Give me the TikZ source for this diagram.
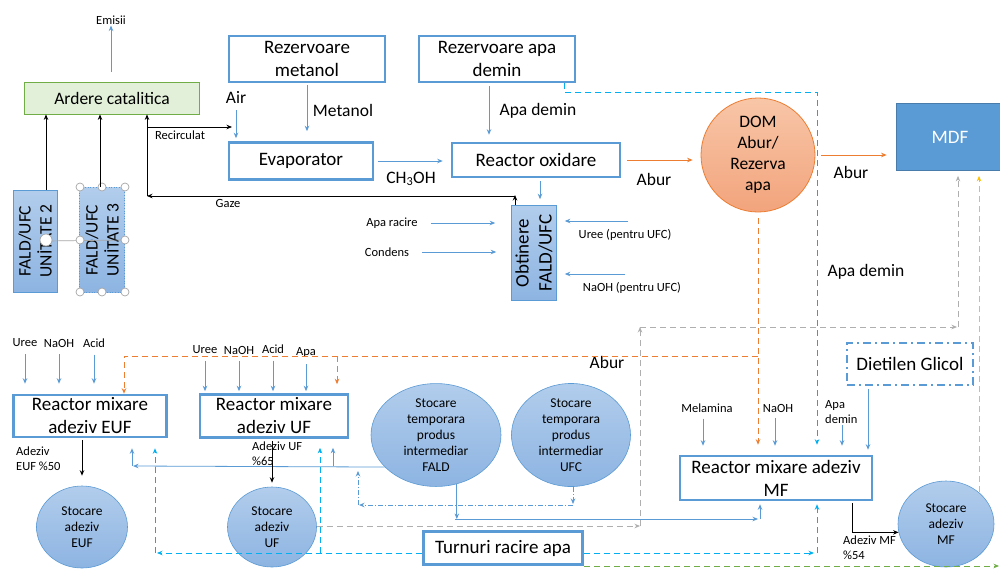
\documentclass[tikz,border=0pt]{standalone}
\usepackage{fontspec}
\setmainfont{Carlito}
\usetikzlibrary{arrows.meta,shapes.geometric}
\definecolor{boxblue}{HTML}{5B9BD5}
\definecolor{unittop}{HTML}{B2CDEC}
\definecolor{unitbot}{HTML}{8DB4E2}
\definecolor{aburorange}{HTML}{ED7D31}
\definecolor{domtop}{HTML}{F8C6A8}
\definecolor{dombot}{HTML}{F2A47C}
\definecolor{demincyan}{HTML}{00B0F0}
\definecolor{retgray}{HTML}{AFAFAF}
\definecolor{mdfyellow}{HTML}{FFC000}
\definecolor{ardgreen}{HTML}{70AD47}
\definecolor{ardfill}{HTML}{E2F0D9}
\newcommand{\fntL}{\fontsize{19}{23}\selectfont}
\newcommand{\fntM}{\fontsize{17.5}{21}\selectfont}
\newcommand{\fntS}{\fontsize{13.5}{16}\selectfont}
\newcommand{\fntXS}{\fontsize{12.5}{15}\selectfont}
\tikzset{
  proc/.style={draw=boxblue, line width=2.6pt, fill=white, align=center, font=\fntL, inner sep=1pt},
  unit/.style={draw=boxblue, line width=0.6pt, top color=unittop, bottom color=unitbot, align=center, font=\fntM, rotate=90, inner sep=1pt},
  tank/.style={ellipse, draw=boxblue, line width=0.6pt, top color=unittop, bottom color=unitbot, align=center, font=\fntS, inner sep=0pt},
  lbl/.style={font=\fntXS, inner sep=1pt},
  biglbl/.style={font=\fntM, inner sep=1pt},
  flowtip/.style={-{Stealth[length=5.5pt,width=4.5pt]}},
  bluearr/.style={flowtip, draw=boxblue, line width=0.8pt},
  blackarr/.style={flowtip, draw=black, line width=0.8pt},
  aburarr/.style={flowtip, draw=aburorange, line width=0.8pt},
  aburdash/.style={aburarr, dash pattern=on 6pt off 4pt},
  demindash/.style={flowtip, draw=demincyan, line width=0.8pt, dash pattern=on 6pt off 4pt},
  retdash/.style={flowtip, draw=retgray, line width=0.8pt, dash pattern=on 6pt off 4pt},
  mdfdash/.style={flowtip, draw=mdfyellow, line width=0.8pt, dash pattern=on 6pt off 4pt},
  greendash/.style={flowtip, draw=ardgreen, line width=0.8pt, dash pattern=on 6pt off 4pt},
  ufcdash/.style={flowtip, draw=boxblue, line width=0.8pt, dash pattern=on 5pt off 2pt on 1pt off 2pt},
  handle/.style={draw=gray!70, fill=white, line width=0.7pt}
}
\begin{document}
\begin{tikzpicture}[x=1pt,y=-1pt]
  \fill[white] (0,0) rectangle (1000,568);
  \useasboundingbox (0,0) rectangle (1000,568);
  % FALD line
  \node[lbl] (emisii) at (111,20) {Emisii};
  \node[draw=ardgreen, fill=ardfill, line width=0.8pt, minimum width=175, minimum height=32, font=\fntM] (ardere) at (112,98) {Ardere catalitica};
  \node[unit, minimum width=102, minimum height=44] (u2) at (35,241) {FALD/UFC\\UNİTATE 2};
  \node[unit, minimum width=105, minimum height=45, dotted] (u3) at (102,240) {FALD/UFC\\UNİTATE 3};
  \node[proc, minimum width=156, minimum height=46] (metanol) at (307,59) {Rezervoare\\metanol};
  \node[proc, minimum width=144, minimum height=37] (evap) at (301,161) {Evaporator};
  \node[proc, minimum width=156, minimum height=46] (apadem) at (497,59) {Rezervoare apa\\demin};
  \node[proc, minimum width=168, minimum height=34] (oxid) at (536,160) {Reactor oxidare};
  \node[unit, minimum width=95, minimum height=45, font=\fntL] (obt) at (534,253) {Obtinere\\FALD/UFC};
  \node[circle, draw=aburorange, line width=0.8pt, top color=domtop, bottom color=dombot, minimum size=114, align=center, font=\fntM, inner sep=0pt] (dom) at (758,155) {DOM\\Abur/\\Rezerva\\apa};
  \node[draw=boxblue!80!black, fill=boxblue, line width=0.8pt, minimum width=108, minimum height=67, text=white, font=\fntL] (mdf) at (950,137) {MDF};
  % adezivi
  \node[proc, minimum width=153, minimum height=42] (euf) at (90,416) {Reactor mixare\\adeziv EUF};
  \node[proc, minimum width=148, minimum height=43] (uf) at (274,416) {Reactor mixare\\adeziv UF};
  \node[tank, minimum width=130, minimum height=94] (fald) at (436,435) {Stocare\\temporara\\produs\\intermediar\\FALD};
  \node[tank, minimum width=119, minimum height=94] (ufc) at (571,435) {Stocare\\temporara\\produs\\intermediar\\UFC};
  \node[tank, minimum width=91, minimum height=82] (steuf) at (82,527) {Stocare\\adeziv\\EUF};
  \node[tank, minimum width=89, minimum height=80] (stuf) at (272,527) {Stocare\\adeziv\\UF};
  \node[proc, minimum width=192, minimum height=44] (mf) at (776,478) {Reactor mixare adeziv\\MF};
  \node[proc, line width=1.8pt, dash pattern=on 8pt off 4pt on 2pt off 4pt, minimum width=126, minimum height=42] (dgl) at (910,364) {Dietilen Glicol};
  \node[tank, minimum width=96, minimum height=86] (stmf) at (946,524) {Stocare\\adeziv\\MF};
  \node[proc, minimum width=159, minimum height=33] (turn) at (503,548) {Turnuri racire apa};
  % labels
  \node[biglbl] (air) at (236,97) {Air};
  \node[biglbl] at (343,110) {Metanol};
  \node[biglbl] at (538,111) {Apa demin};
  \node[biglbl] at (411,179) {CH\textsubscript{3}OH};
  \node[biglbl] at (654,179) {Abur};
  \node[biglbl] at (851,172) {Abur};
  \node[biglbl] at (866,272) {Apa demin};
  \node[biglbl] at (607,362) {Abur};
  \node[lbl] at (180,135) {Recirculat};
  \node[lbl] at (228,203) {Gaze};
  \node[lbl] (racire) at (392,223) {Apa racire};
  \node[lbl] (condens) at (387,252) {Condens};
  \node[lbl] at (625,235) {Uree (pentru UFC)};
  \node[lbl] at (632,288) {NaOH (pentru UFC)};
  \node[lbl] (ure1) at (25,343) {Uree};
  \node[lbl] (na1) at (59,343) {NaOH};
  \node[lbl] (ac1) at (94,343) {Acid};
  \node[lbl] (ure2) at (205,350) {Uree};
  \node[lbl] (na2) at (239,350) {NaOH};
  \node[lbl] (ac2) at (273,349) {Acid};
  \node[lbl] (apa2) at (306,352) {Apa};
  \node[lbl] (mel) at (707,408) {Melamina};
  \node[lbl] (na3) at (778,408) {NaOH};
  \node[lbl, align=left, anchor=west] (apa3) at (824,412) {Apa\\demin};
  \node[lbl, align=left, anchor=west] at (15,459) {Adeziv\\EUF \%50};
  \node[lbl, align=left, anchor=west] at (251,454) {Adeziv UF\\\%65};
  \node[lbl, align=left, anchor=west] at (842,548) {Adeziv MF\\\%54};
  % selection handles
  \draw[gray!70, line width=0.7pt] (u2.center -| 46,0) -- (u3.south west |- 0,240);
  \draw[handle] (46,240) circle (6);
  \foreach \hx/\hy in {80/187,102/187,125/187,80/240,125/240,80/292,102/292,125/292}
    \draw[handle] (\hx,\hy) circle (4);
  % gaze / recirculat
  \draw[bluearr, shorten <=10pt] (ardere.north -| emisii) -- (emisii.south);
  \draw[blackarr] (u2.east -| 46,0) -- (ardere.south -| 46,0);
  \draw[blackarr] (u3.east -| 100,0) -- (ardere.south -| 100,0);
  \coordinate (gz) at (147,196);
  \draw[blackarr] (obt.east -| 515,0) -- (515,195);
  \draw[blackarr] (515,196) -- (gz);
  \draw[blackarr] (gz) -- (ardere.south -| gz);
  \draw[blackarr] (gz |- 0,127) -- (232,127);
  % metanol, apa demin
  \draw[bluearr, shorten <=6pt, shorten >=3pt] (air.south) -- (evap.north -| air.south);
  \draw[bluearr, shorten <=2pt, shorten >=10pt] (metanol.south) -- (evap.north -| metanol.south);
  \draw[bluearr, shorten <=4pt, shorten >=8pt] (evap.east) -- (evap.east -| oxid.west);
  \draw[bluearr, shorten <=3pt, shorten >=7pt] (apadem.south -| 489,0) -- (oxid.north -| 489,0);
  \draw[bluearr, shorten <=3pt, shorten >=6pt] (oxid.south -| 540,0) -- (obt.east -| 540,0);
  \draw[bluearr, shorten <=12pt, shorten >=16pt] (racire.east) -- (racire.east -| obt.north);
  \draw[bluearr, shorten <=12pt, shorten >=15pt] (condens.east) -- (condens.east -| obt.north);
  \draw[bluearr, shorten >=8pt] (628,221) -- (obt.south |- 0,221);
  \draw[bluearr, shorten >=8pt] (625,274) -- (obt.south |- 0,274);
  % abur
  \draw[aburarr, shorten <=6pt, shorten >=8pt] (oxid.east) -- (oxid.east -| dom.west);
  \draw[aburarr, shorten <=6pt, shorten >=9pt] (dom.east) -- (dom.east -| mdf.west);
  \draw[aburdash, shorten <=6pt, shorten >=10pt] (dom.south) -- (mf.north -| dom.south);
  \draw[aburdash] (758,356) -| (euf.north -| 124,0);
  \draw[aburdash, shorten >=9pt] (337,356) -- (uf.north -| 337,0);
  % apa demin
  \draw[demindash, shorten >=10pt] (apadem.south -| 564,0) |- (817,92) -- (mf.north -| 817,0);
  % retur catre MDF
  \draw[retdash] (stuf.east |- 0,526) -- (640,526);
  \draw[retdash] (640,526) -- (640,327);
  \draw[retdash] (640,327) -- (957,327);
  \draw[retdash, shorten >=5pt] (958,327) -- (mdf.south -| 958,0);
  \draw[mdfdash, shorten >=5pt] (979,492) -- (mdf.south -| 979,0);
  \draw[greendash] (turn.south east |- 0,566) -- (999,566);
  % turnuri racire
  \draw[demindash] (turn.west |- 0,553) -- (157,553);
  \draw[demindash, shorten >=10pt] (155,553) -- (euf.south -| 155,0);
  \draw[demindash, shorten >=9pt] (320,553) -- (uf.south -| 320,0);
  \draw[demindash] (turn.east |- 0,553) -- (814,553);
  \draw[demindash, shorten >=3pt] (817,553) -- (mf.south -| 817,0);
  % FALD / UFC
  \draw[bluearr] (fald.212) -- (133,466);
  \draw[bluearr, shorten >=10pt] (132,466) -- (euf.south -| 132,0);
  \draw[bluearr, shorten >=9pt] (333,466) -- (uf.south -| 333,0);
  \draw[bluearr] (fald.293) -- (fald.293 |- 0,519);
  \draw[bluearr] (455,519) -- (758,519);
  \draw[bluearr, shorten >=3pt] (760,519) -- (mf.south -| 760,0);
  \draw[ufcdash] (ufc.south -| 573,0) -- (573,504);
  \draw[ufcdash] (573,505) -- (359,505);
  \draw[ufcdash] (358,505) -- (358,471);
  % materii prime
  \foreach \n in {ure1,na1,ac1}
    \draw[bluearr, shorten <=6pt, shorten >=10pt] (\n.south) -- (euf.north -| \n.south);
  \foreach \n in {ure2,na2,ac2,apa2}
    \draw[bluearr, shorten <=6pt, shorten >=2pt] (\n.south) -- (uf.north -| \n.south);
  \draw[bluearr, shorten <=5pt, shorten >=9pt] (mel.south -| 703,0) -- (mf.north -| 703,0);
  \draw[bluearr, shorten <=5pt, shorten >=9pt] (na3.south -| 775,0) -- (mf.north -| 775,0);
  \draw[bluearr, shorten >=9pt] (842,425) -- (mf.north -| 842,0);
  \draw[bluearr, shorten <=3pt, shorten >=5pt] (dgl.south -| 868,0) -- (mf.north -| 868,0);
  % depozitare
  \draw[blackarr, shorten <=2pt, shorten >=10pt] (euf.south -| steuf.north) -- (steuf.north);
  \draw[blackarr, shorten <=2pt, shorten >=4pt] (uf.south -| stuf.north) -- (stuf.north);
  \draw[blackarr, shorten <=2pt] (mf.south -| 852,0) |- (stmf.190);
\end{tikzpicture}
\end{document}
